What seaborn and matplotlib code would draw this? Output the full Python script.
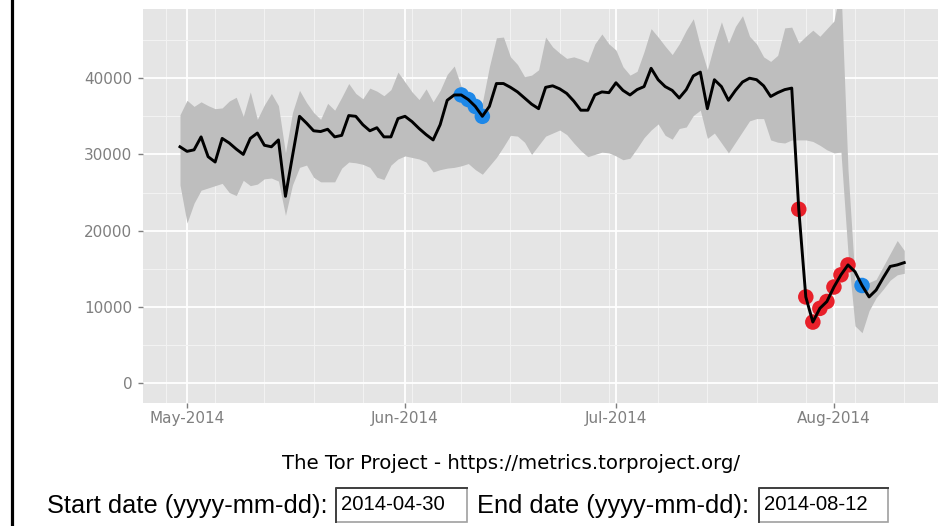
import numpy as np
import pandas as pd
import seaborn as sns
import matplotlib
matplotlib.use("Agg")
from matplotlib import pyplot as plt
import matplotlib.dates as mdates
from matplotlib.lines import Line2D
from matplotlib.patches import Rectangle

# form fields shown under the graph
start_date = "2014-04-30"
end_date = "2014-08-12"
caption = "The Tor Project - https://metrics.torproject.org/"

# daily estimated users (starts at start_date)
users = [
    31000, 30400, 30600, 32300, 29700, 29000, 32100, 31500, 30700, 30000,
    32100, 32800, 31200, 31000, 31900, 24500, 29800, 35000, 34100, 33100,
    33000, 33300, 32300, 32500, 35100, 35000, 33900, 33100, 33500, 32300,
    32300, 34700, 35000, 34300, 33400, 32600, 31900, 33900, 37100, 37800,
    37800, 37200, 36300, 35000, 36300, 39300, 39300, 38800, 38200, 37400,
    36600, 36000, 38800, 39000, 38600, 38000, 37000, 35800, 35800, 37800,
    38200, 38100, 39400, 38400, 37800, 38500, 38900, 41300, 39800, 38900,
    38400, 37400, 38500, 40300, 40800, 36000, 39800, 38900, 37100, 38400,
    39500, 40000, 39800, 39000, 37600, 38100, 38500, 38700, 22800, 11300,
    8000, 9800, 10700, 12600, 14200, 15500, 14600, 12800, 11300, 12200,
    13800, 15300, 15500, 15800,
]

# expected range (grey ribbon)
upper = [
    35200, 37100, 36300, 36900, 36400, 36000, 36100, 37000, 37500, 35000,
    38200, 34600, 36500, 38000, 36400, 30200, 35500, 38400, 36800, 35500,
    34600, 36700, 35800, 37500, 39300, 38000, 37300, 38700, 38300, 37700,
    38500, 40800, 39500, 38200, 37200, 38600, 36900, 38400, 40500, 41600,
    38900, 38000, 37200, 36800, 41500, 45300, 45400, 42800, 41800, 40200,
    40400, 41100, 45400, 44100, 43300, 42600, 42800, 42500, 42100, 44500,
    45800, 44500, 43700, 41500, 40400, 40900, 43500, 46500, 45400, 44200,
    43100, 44500, 46300, 47800, 44200, 41100, 44500, 47400, 44600, 46800,
    48200, 45500, 44500, 42800, 42200, 43000, 46600, 46700, 44600, 45500,
    46300, 45500, 46500, 47500, 52000, 28000, 13500, 13200, 13200, 13600,
    15300, 17000, 18700, 17400,
]
lower = [
    26000, 21000, 23600, 25300, 25600, 25900, 26200, 25000, 24600, 26600,
    25900, 26100, 26800, 26900, 26500, 22000, 26000, 28300, 28600, 27000,
    26400, 26400, 26400, 28200, 29000, 28900, 28700, 28300, 27000, 26700,
    28600, 29400, 29800, 29600, 29400, 29000, 27700, 28000, 28200, 28300,
    28500, 28800, 28000, 27400, 28500, 29600, 31000, 32500, 32400, 31600,
    30000, 31200, 32400, 32800, 33200, 32600, 31500, 30500, 29700, 30000,
    30300, 30200, 29800, 29300, 29500, 30800, 32200, 33200, 34000, 32500,
    32000, 33400, 33600, 35100, 35800, 32100, 32800, 31500, 30200, 31600,
    33000, 34400, 34700, 34700, 31900, 31600, 31500, 31900, 31900, 31900,
    31700, 31200, 30600, 30200, 30300, 17000, 7500, 6600, 9500, 11200,
    12300, 13500, 14200, 14400,
]

# days (index into users) flagged as possible censorship events
upturn_days = [40, 41, 42, 43, 97]
downturn_days = [88, 89, 90, 91, 92, 93, 94, 95]

dates = pd.date_range(start_date, periods=len(users), freq="D")
df = pd.DataFrame({"date": dates, "users": users, "lower": lower, "upper": upper})

events = pd.concat([
    df.iloc[upturn_days].assign(kind="up"),
    df.iloc[downturn_days].assign(kind="down"),
])

W, H = 944, 526
fig = plt.figure(figsize=(W / 100, H / 100), dpi=100)
ax = fig.add_axes([143 / W, 1 - 403 / H, 795 / W, 394 / H])
ax.set_facecolor("#E5E5E5")

ax.fill_between(df["date"], df["lower"], df["upper"], color="#BEBEBE", lw=0, zorder=2)

sns.scatterplot(
    data=events, x="date", y="users", hue="kind",
    palette={"up": "#1E88E8", "down": "#E8202A"},
    s=125, edgecolor="none", legend=False, ax=ax, zorder=3,
)
sns.lineplot(data=df, x="date", y="users", color="black", lw=2.1, ax=ax, zorder=4)

# axes ranges
x0 = mdates.date2num(dates[0])
ax.set_xlim(x0 - 5.26, x0 + 107.8)
ax.set_ylim(-2620, 49080)

ax.xaxis.set_major_locator(mdates.MonthLocator())
ax.xaxis.set_minor_locator(mdates.WeekdayLocator(byweekday=mdates.MO))
ax.xaxis.set_major_formatter(mdates.DateFormatter("%b-%Y"))
ax.set_yticks(np.arange(0, 40001, 10000))
ax.set_yticks(np.arange(5000, 45001, 10000), minor=True)

ax.set_axisbelow(True)
ax.grid(which="major", color="white", lw=1.3)
ax.grid(which="minor", color="#F2F2F2", lw=0.8)
for sp in ax.spines.values():
    sp.set_visible(False)

ax.tick_params(which="major", length=3.6, width=1, color="#7F7F7F",
               labelcolor="#7F7F7F", labelsize=11)
ax.tick_params(axis="x", pad=2)
ax.tick_params(axis="y", pad=4)
ax.tick_params(which="minor", length=0)

ax.set_ylabel("")
ax.set_xlabel(caption, fontsize=14.2, color="black")
ax.xaxis.set_label_coords((511 - 143) / 795, (403 - 463) / 394)
ax.xaxis.label.set_va("center")

# page border on the left
fig.add_artist(Line2D([11.5 / W, 11.5 / W], [0, 1], color="black", lw=2.3))

# date form under the graph
form_font = dict(family="Liberation Sans", fontsize=18.3, color="black", va="baseline")
fig.text(47 / W, 1 - 513 / H, "Start date (yyyy-mm-dd):", **form_font)
fig.text(477 / W, 1 - 513 / H, "End date (yyyy-mm-dd):", **form_font)

for bx, bw, val in [(336, 131, start_date), (759, 129, end_date)]:
    fig.add_artist(Rectangle((bx / W, 1 - 522 / H), bw / W, 34 / H,
                             transform=fig.transFigure, facecolor="white",
                             edgecolor="#A0A0A0", lw=1.2))
    fig.add_artist(Line2D([bx / W, bx / W, (bx + bw) / W],
                          [1 - 522 / H, 1 - 488 / H, 1 - 488 / H],
                          color="#404040", lw=1.4))
    fig.text((bx + 5) / W, 1 - 505 / H, val, family="Liberation Sans",
             fontsize=14.6, color="black", va="center")

fig.savefig("out.png", dpi=100, facecolor="white")
